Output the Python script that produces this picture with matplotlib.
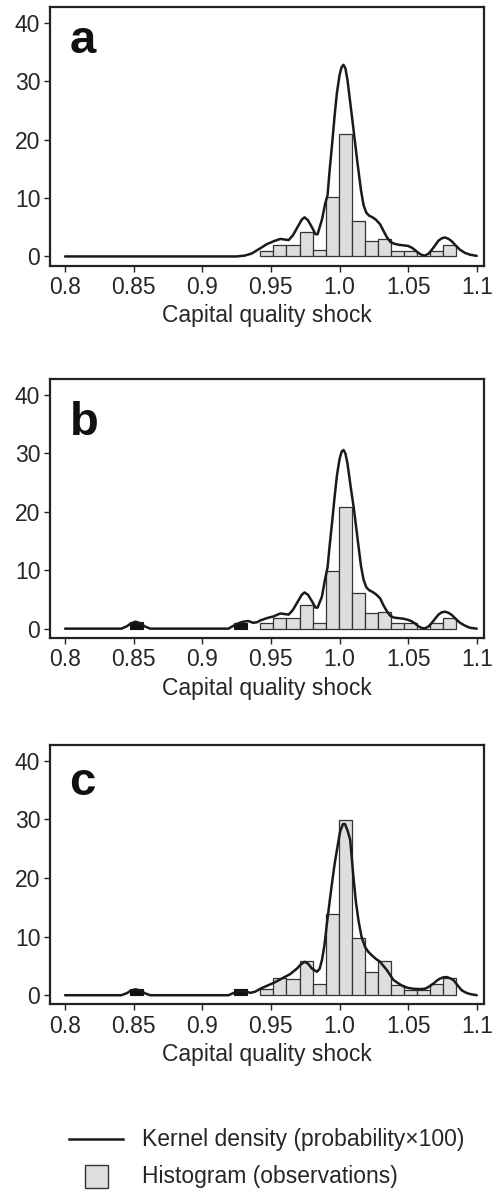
import matplotlib
matplotlib.use("Agg")
import matplotlib.pyplot as plt
import numpy as np
from matplotlib.lines import Line2D
from matplotlib.patches import Rectangle

plt.rcParams['font.family'] = ['Liberation Sans', 'DejaVu Sans']

# ---------------- data ----------------
panel_labels = ["a", "b", "c"]
x_ticks = [0.8, 0.85, 0.9, 0.95, 1.0, 1.05, 1.1]
x_tick_labels = ["0.8", "0.85", "0.9", "0.95", "1.0", "1.05", "1.1"]
y_ticks = [0, 10, 20, 30, 40]
x_label = "Capital quality shock"

bin_start = 0.9423
bin_width = 0.00953

hist_a = [1.0, 2.0, 2.0, 4.2, 1.1, 10.1, 21.0, 6.1, 2.7, 3.0, 1.0, 1.0, 0.0, 1.0, 2.0]
hist_b = [1.0, 1.9, 1.9, 4.0, 1.0, 9.9, 20.9, 6.1, 2.7, 2.85, 1.0, 1.0, 0.0, 1.0, 1.9]
hist_c = [1.0, 3.0, 2.8, 5.9, 1.9, 13.9, 29.9, 9.8, 3.9, 5.9, 1.8, 0.9, 0.9, 1.9, 3.0]

# outlier bars (drawn black) : left edges and heights
outlier_left_b = [0.8470, 0.9232]
outlier_h_b = [1.1, 1.0]
outlier_left_c = [0.8470, 0.9232]
outlier_h_c = [1.0, 1.0]

kde_a_x = [0.800, 0.925, 0.931, 0.936, 0.9423, 0.947, 0.952, 0.9568, 0.960, 0.9629,
           0.966, 0.969, 0.9725, 0.9745, 0.977, 0.9799, 0.9825, 0.9840, 0.9872, 0.9895,
           0.9913, 0.9927, 0.9945, 0.9964, 0.9981, 1.0000, 1.0015, 1.0029, 1.0043, 1.0058,
           1.0080, 1.0105, 1.0131, 1.0156, 1.0175, 1.0195, 1.0215, 1.0240, 1.0265, 1.0296,
           1.0320, 1.0345, 1.0370, 1.0395, 1.0430, 1.0466, 1.0500, 1.0527, 1.0555, 1.0575,
           1.0600, 1.0624, 1.0650, 1.0673, 1.0700, 1.0721, 1.0745, 1.0769, 1.0795, 1.0818,
           1.0850, 1.0878, 1.0915, 1.0951, 1.1000]
kde_a_y = [0.0, 0.0, 0.15, 0.5, 1.4, 2.1, 2.6, 3.0, 2.9, 2.8,
           3.6, 4.85, 6.3, 6.7, 6.2, 5.0, 3.8, 3.8, 6.3, 9.0,
           10.5, 14.5, 19.0, 24.0, 28.0, 31.0, 32.4, 32.8, 32.2, 30.2,
           26.0, 21.1, 16.0, 11.4, 8.8, 7.5, 7.0, 6.7, 6.3, 5.5,
           4.4, 3.3, 2.5, 2.2, 2.0, 1.9, 1.8, 1.5, 1.0, 0.6,
           0.25, 0.15, 0.5, 1.15, 2.0, 2.7, 3.1, 3.25, 3.0, 2.6,
           1.8, 1.15, 0.6, 0.3, 0.1]

kde_b_x = [0.800, 0.841, 0.845, 0.848, 0.8513, 0.855, 0.858, 0.862, 0.919, 0.922,
           0.926, 0.930, 0.9335, 0.937, 0.940, 0.9423, 0.947, 0.952, 0.9568, 0.960,
           0.9629, 0.966, 0.969, 0.9725, 0.9745, 0.977, 0.9799, 0.9825, 0.9840, 0.9872,
           0.9895, 0.9913, 0.9927, 0.9945, 0.9964, 0.9981, 1.0000, 1.0015, 1.0029, 1.0043,
           1.0058, 1.0080, 1.0105, 1.0131, 1.0156, 1.0175, 1.0195, 1.0215, 1.0240, 1.0265,
           1.0296, 1.0320, 1.0345, 1.0370, 1.0395, 1.0430, 1.0466, 1.0500, 1.0527, 1.0555,
           1.0575, 1.0600, 1.0624, 1.0650, 1.0673, 1.0700, 1.0721, 1.0745, 1.0769, 1.0795,
           1.0818, 1.0850, 1.0878, 1.0915, 1.0951, 1.1000]
kde_b_y = [0.0, 0.0, 0.4, 0.9, 1.2, 0.9, 0.4, 0.0, 0.0, 0.4,
           0.9, 1.2, 1.3, 1.0, 1.1, 1.4, 1.8, 2.1, 2.6, 2.5,
           2.4, 3.2, 4.4, 5.8, 6.2, 5.8, 4.7, 3.6, 3.6, 5.5,
           8.5, 10.5, 14.0, 18.0, 22.5, 26.2, 29.0, 30.3, 30.6, 30.0,
           28.3, 24.5, 20.5, 15.5, 10.8, 8.4, 7.1, 6.6, 6.3, 5.9,
           5.2, 4.0, 3.0, 2.2, 1.9, 1.8, 1.7, 1.5, 1.25, 0.8,
           0.4, 0.1, 0.05, 0.4, 1.0, 1.8, 2.4, 2.8, 2.9, 2.7,
           2.35, 1.6, 1.0, 0.5, 0.15, 0.0]

kde_c_x = [0.800, 0.841, 0.845, 0.848, 0.8513, 0.855, 0.858, 0.862, 0.919, 0.922,
           0.926, 0.9277, 0.931, 0.935, 0.9385, 0.9423, 0.947, 0.952, 0.956, 0.960,
           0.964, 0.969, 0.972, 0.9745, 0.977, 0.9799, 0.9835, 0.9855, 0.9872, 0.9890,
           0.9908, 0.9927, 0.9945, 0.9965, 0.9990, 1.0005, 1.0025, 1.0040, 1.0060, 1.0078,
           1.0102, 1.0120, 1.0138, 1.0160, 1.0187, 1.0210, 1.0236, 1.0265, 1.0296, 1.0320,
           1.0345, 1.0370, 1.0393, 1.0430, 1.0466, 1.0500, 1.0539, 1.0580, 1.0624, 1.0655,
           1.0685, 1.0710, 1.0733, 1.0757, 1.0781, 1.0805, 1.0830, 1.0860, 1.0890, 1.0920,
           1.0951, 1.1000]
kde_c_y = [0.0, 0.0, 0.35, 0.8, 1.0, 0.8, 0.35, 0.0, 0.0, 0.3,
           0.7, 0.75, 0.7, 0.4, 0.6, 1.1, 1.6, 2.1, 2.6, 3.1,
           3.6, 4.55, 5.3, 5.7, 5.4, 4.55, 4.0, 4.5, 6.0, 8.5,
           12.2, 15.8, 19.1, 22.5, 26.0, 28.0, 29.2, 29.2, 28.0, 26.5,
           20.0, 15.8, 12.8, 10.0, 8.2, 7.4, 6.8, 6.2, 5.7, 5.0,
           4.3, 3.4, 2.6, 2.0, 1.5, 1.25, 1.1, 1.05, 1.1, 1.5,
           2.0, 2.5, 2.85, 3.05, 3.1, 2.9, 2.6, 1.7, 0.85, 0.45,
           0.2, 0.0]

legend_labels = ["Kernel density (probability\u00d7100)", "Histogram (observations)"]

# ---------------- style ----------------
TXT = '#262626'
FS = 16.5
fig = plt.figure(figsize=(4.92, 11.92), dpi=100)

W = 492.0
H = 1192.0
# axes boxes in pixels: (top, bottom)
boxes = [(7.0, 265.5), (379.3, 637.7), (745.0, 1004.3)]
label_base = [0.821, 0.784, 0.807]
left_px, right_px = 50.0, 484.0

hists = [hist_a, hist_b, hist_c]
kdes = [(kde_a_x, kde_a_y), (kde_b_x, kde_b_y), (kde_c_x, kde_c_y)]
outliers = [([], []), (outlier_left_b, outlier_h_b), (outlier_left_c, outlier_h_c)]

edges = bin_start + bin_width * np.arange(len(hist_a))

for i, (top, bot) in enumerate(boxes):
    ax = fig.add_axes([left_px / W, 1 - bot / H, (right_px - left_px) / W, (bot - top) / H])
    ax.bar(edges, hists[i], width=bin_width, align='edge', color='#dedede',
           edgecolor='#333333', linewidth=0.9, zorder=2)
    ol, oh = outliers[i]
    if ol:
        ax.bar(ol, oh, width=bin_width, align='edge', color='#111111',
               edgecolor='#111111', linewidth=0.8, zorder=2)
    kx, ky = kdes[i]
    ax.plot(kx, ky, color='#1a1a1a', linewidth=1.8, zorder=3,
            solid_joinstyle='round', solid_capstyle='round')
    ax.set_xlim(0.789, 1.1053)
    ax.set_ylim(-1.55, 42.7)
    ax.set_xticks(x_ticks)
    ax.set_xticklabels(x_tick_labels)
    ax.set_yticks(y_ticks)
    for s in ax.spines.values():
        s.set_linewidth(1.6)
        s.set_color('#222222')
    ax.tick_params(axis='both', direction='out', length=4.5, width=1.0,
                   color='#222222', labelsize=FS, labelcolor=TXT, pad=2.5)
    ax.tick_params(axis='x', pad=3.0)
    ax.set_xlabel(x_label, fontsize=FS, color=TXT, labelpad=4)
    ax.text(0.045, label_base[i], panel_labels[i], transform=ax.transAxes,
            fontsize=34, fontweight='bold', color='#111111', va='baseline', ha='left')

# ---------------- legend (manual) ----------------
y1 = 1 - 1139.3 / H
y2 = 1 - 1176.0 / H
fig.add_artist(Line2D([69 / W, 123 / W], [y1, y1], color='#1a1a1a', linewidth=1.8,
                      transform=fig.transFigure))
sq = 23.0
fig.add_artist(Rectangle(((96.7 - sq / 2) / W, y2 - (sq / 2) / H), sq / W, sq / H,
                         facecolor='#dedede', edgecolor='#333333', linewidth=1.0,
                         transform=fig.transFigure))
fig.text(141.7 / W, y1, legend_labels[0], fontsize=FS, color=TXT, va='center', ha='left')
fig.text(141.7 / W, y2, legend_labels[1], fontsize=FS, color=TXT, va='center', ha='left')

fig.savefig("out.png", dpi=100)
